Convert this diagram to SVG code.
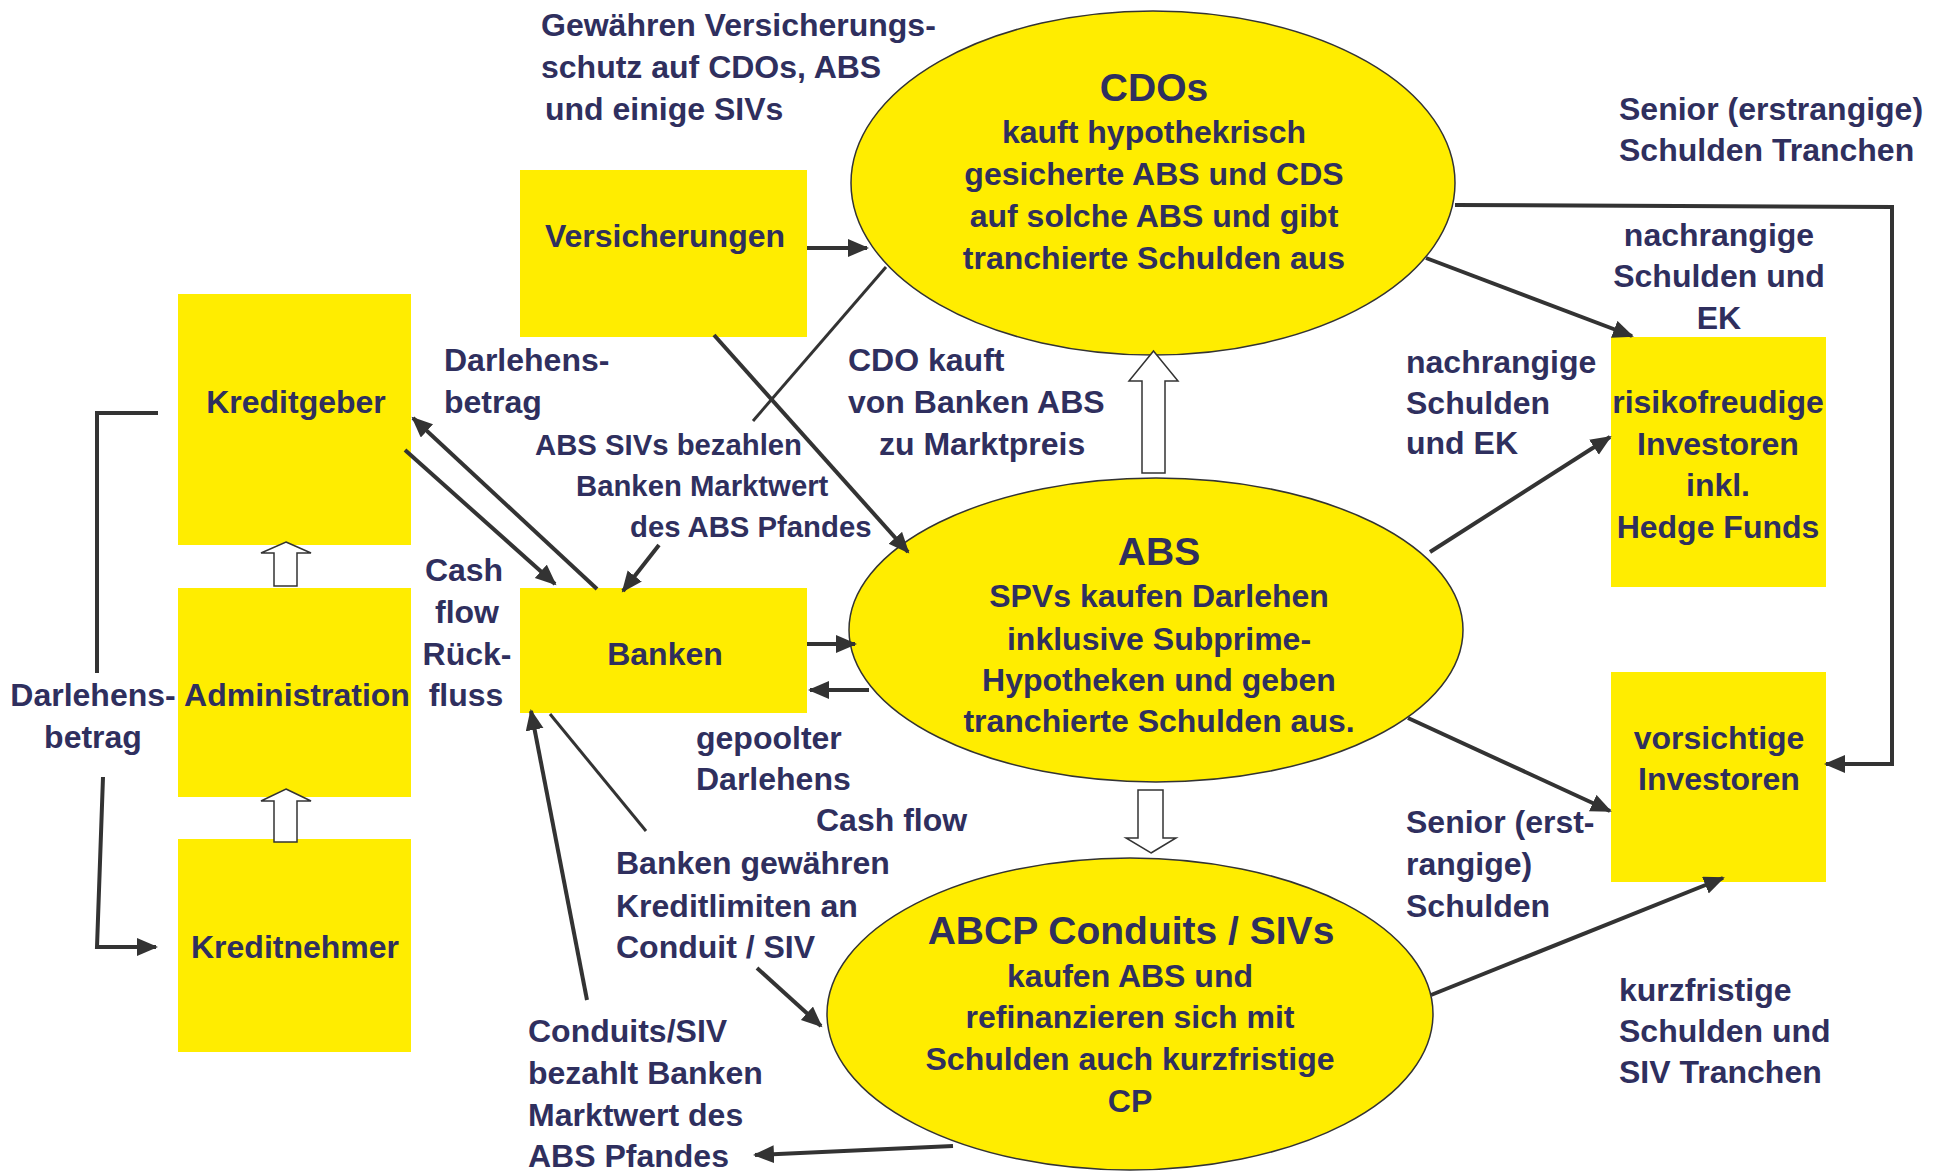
<svg xmlns="http://www.w3.org/2000/svg" width="1942" height="1174" viewBox="0 0 1942 1174">
<style>
.box{fill:#FFED00;stroke:none}
.ell{fill:#FFED00;stroke:#333;stroke-width:1.5}
.blk{fill:#fff;stroke:#333;stroke-width:1.5}
.t{font-family:"Liberation Sans",Arial,sans-serif;font-weight:bold;font-size:32px;fill:#2f2f5e}
.h{font-size:39px}
.s{font-size:29.3px}
.m{text-anchor:middle}
.ln{fill:none;stroke:#333;stroke-width:4}
.thin{fill:none;stroke:#333;stroke-width:3}
</style>
<defs>
<marker id="ah" markerUnits="userSpaceOnUse" markerWidth="24" markerHeight="20" refX="19" refY="9" orient="auto">
<path d="M0,0 L21,9 L0,18 z" fill="#333"/>
</marker>
</defs>
<rect width="1942" height="1174" fill="#fff"/>

<g id="kreditgeber"><rect class="box" x="178" y="294" width="233" height="251"/><text class="t m" x="296" y="413">Kreditgeber</text></g>
<g id="administration"><rect class="box" x="178" y="588" width="233" height="209"/><text class="t m" x="297" y="706">Administration</text></g>
<g id="kreditnehmer"><rect class="box" x="178" y="839" width="233" height="213"/><text class="t m" x="295" y="958">Kreditnehmer</text></g>
<g id="versicherungen"><rect class="box" x="520" y="170" width="287" height="167"/><text class="t m" x="665" y="247">Versicherungen</text></g>
<g id="banken"><rect class="box" x="520" y="588" width="287" height="125"/><text class="t m" x="665" y="665">Banken</text></g>
<g id="risikofreudige"><rect class="box" x="1611" y="337" width="215" height="250"/>
<text class="t m" x="1718" y="413">risikofreudige</text><text class="t m" x="1718" y="455">Investoren</text><text class="t m" x="1718" y="496">inkl.</text><text class="t m" x="1718" y="538">Hedge Funds</text></g>
<g id="vorsichtige"><rect class="box" x="1611" y="672" width="215" height="210"/>
<text class="t m" x="1719" y="749">vorsichtige</text><text class="t m" x="1719" y="790">Investoren</text></g>

<g id="cdos"><ellipse class="ell" cx="1153" cy="183" rx="302" ry="172"/>
<text class="t h m" x="1154" y="101">CDOs</text>
<text class="t m" x="1154" y="143">kauft hypothekrisch</text>
<text class="t m" x="1154" y="185">gesicherte ABS und CDS</text>
<text class="t m" x="1154" y="227">auf solche ABS und gibt</text>
<text class="t m" x="1154" y="269">tranchierte Schulden aus</text></g>
<g id="abs"><ellipse class="ell" cx="1156" cy="630" rx="307" ry="152"/>
<text class="t h m" x="1159" y="565">ABS</text>
<text class="t m" x="1159" y="607">SPVs kaufen Darlehen</text>
<text class="t m" x="1159" y="650">inklusive Subprime-</text>
<text class="t m" x="1159" y="691">Hypotheken und geben</text>
<text class="t m" x="1159" y="732">tranchierte Schulden aus.</text></g>
<g id="abcp"><ellipse class="ell" cx="1130" cy="1014" rx="303" ry="156"/>
<text class="t h m" x="1131" y="944">ABCP Conduits / SIVs</text>
<text class="t m" x="1130" y="987">kaufen ABS und</text>
<text class="t m" x="1130" y="1028">refinanzieren sich mit</text>
<text class="t m" x="1130" y="1070">Schulden auch kurzfristige</text>
<text class="t m" x="1130" y="1112">CP</text></g>

<g id="connectors">
<polygon class="blk" points="286,542 311,553 297,553 297,586 274,586 274,553 261,553"/>
<polygon class="blk" points="286,789 311,801 297,801 297,842 274,842 274,801 261,801"/>
<polygon class="blk" points="1153.5,351 1178,381 1165,381 1165,473 1142,473 1142,381 1129,381"/>
<polygon class="blk" points="1151,853 1176,838 1163,838 1163,790 1138,790 1138,838 1126,838"/>
<polyline class="ln" points="158,413 97,413 97,673"/>
<polyline class="ln" points="103,777 97,947 156,947" marker-end="url(#ah)"/>
<line class="ln" x1="807" y1="248" x2="867" y2="248" marker-end="url(#ah)"/>
<line class="thin" x1="886" y1="267" x2="753" y2="421"/>
<line class="ln" x1="714" y1="335" x2="908" y2="552" marker-end="url(#ah)"/>
<line class="ln" x1="597" y1="589" x2="413" y2="418" marker-end="url(#ah)"/>
<line class="ln" x1="405" y1="450" x2="555" y2="584" marker-end="url(#ah)"/>
<line class="ln" x1="659" y1="545" x2="623" y2="591" marker-end="url(#ah)"/>
<line class="ln" x1="807" y1="644" x2="855" y2="644" marker-end="url(#ah)"/>
<line class="ln" x1="869" y1="690" x2="810" y2="690" marker-end="url(#ah)"/>
<line class="thin" x1="550" y1="714" x2="646" y2="831"/>
<line class="ln" x1="757" y1="968" x2="821" y2="1026" marker-end="url(#ah)"/>
<line class="ln" x1="587" y1="1000" x2="531" y2="711" marker-end="url(#ah)"/>
<line class="ln" x1="953" y1="1146" x2="755" y2="1155" marker-end="url(#ah)"/>
<polyline class="ln" points="1455,205 1892,207 1892,764 1826,764" marker-end="url(#ah)"/>
<line class="ln" x1="1426" y1="258" x2="1632" y2="336" marker-end="url(#ah)"/>
<line class="ln" x1="1430" y1="552" x2="1610" y2="437" marker-end="url(#ah)"/>
<line class="ln" x1="1408" y1="718" x2="1610" y2="811" marker-end="url(#ah)"/>
<line class="ln" x1="1431" y1="995" x2="1723" y2="878" marker-end="url(#ah)"/>
</g>

<g id="labels">
<text class="t" x="541" y="36">Gewähren Versicherungs-</text>
<text class="t" x="541" y="78">schutz auf CDOs, ABS</text>
<text class="t" x="545" y="120">und einige SIVs</text>
<text class="t" x="444" y="371">Darlehens-</text>
<text class="t" x="444" y="413">betrag</text>
<text class="t s" x="535" y="455">ABS SIVs bezahlen</text>
<text class="t s" x="576" y="496">Banken Marktwert</text>
<text class="t s" x="630" y="537">des ABS Pfandes</text>
<text class="t" x="848" y="371">CDO kauft</text>
<text class="t" x="848" y="413">von Banken ABS</text>
<text class="t" x="879" y="455">zu Marktpreis</text>
<text class="t m" x="464" y="581">Cash</text>
<text class="t m" x="467" y="623">flow</text>
<text class="t m" x="467" y="665">Rück-</text>
<text class="t m" x="466" y="706">fluss</text>
<text class="t m" x="93" y="706">Darlehens-</text>
<text class="t m" x="93" y="748">betrag</text>
<text class="t" x="696" y="749">gepoolter</text>
<text class="t" x="696" y="790">Darlehens</text>
<text class="t" x="816" y="831">Cash flow</text>
<text class="t" x="616" y="874">Banken gewähren</text>
<text class="t" x="616" y="917">Kreditlimiten an</text>
<text class="t" x="616" y="958">Conduit / SIV</text>
<text class="t" x="528" y="1042">Conduits/SIV</text>
<text class="t" x="528" y="1084">bezahlt Banken</text>
<text class="t" x="528" y="1126">Marktwert des</text>
<text class="t" x="528" y="1167">ABS Pfandes</text>
<text class="t" x="1619" y="120">Senior (erstrangige)</text>
<text class="t" x="1619" y="161">Schulden Tranchen</text>
<text class="t m" x="1719" y="246">nachrangige</text>
<text class="t m" x="1719" y="287">Schulden und</text>
<text class="t m" x="1719" y="329">EK</text>
<text class="t" x="1406" y="373">nachrangige</text>
<text class="t" x="1406" y="414">Schulden</text>
<text class="t" x="1406" y="454">und EK</text>
<text class="t" x="1406" y="833">Senior (erst-</text>
<text class="t" x="1406" y="875">rangige)</text>
<text class="t" x="1406" y="917">Schulden</text>
<text class="t" x="1619" y="1001">kurzfristige</text>
<text class="t" x="1619" y="1042">Schulden und</text>
<text class="t" x="1619" y="1083">SIV Tranchen</text>
</g>
</svg>
